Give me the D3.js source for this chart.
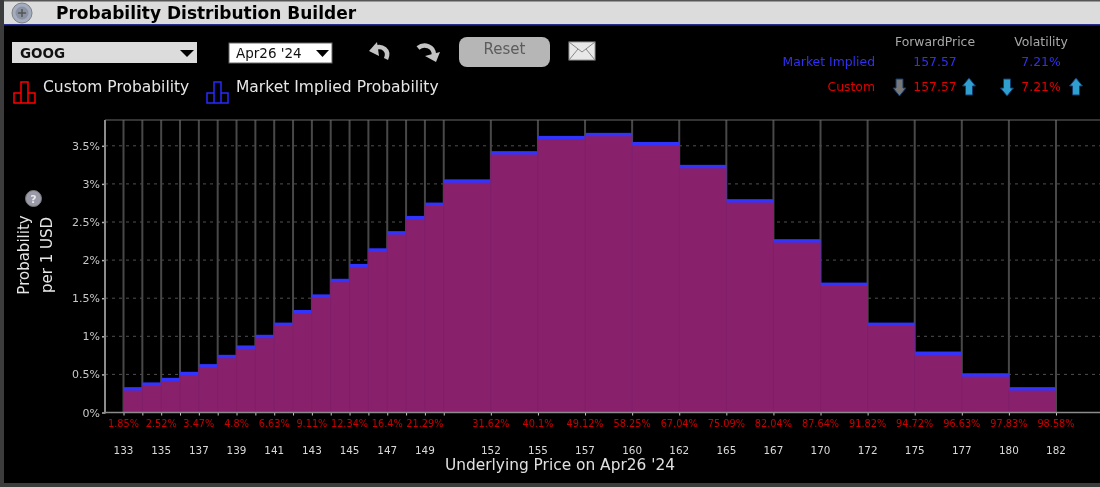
<!DOCTYPE html>
<html>
<head>
<meta charset="utf-8">
<title>Probability Distribution Builder</title>
<script src="https://cdnjs.cloudflare.com/ajax/libs/d3/7.8.5/d3.min.js"></script>
<style>
  html, body { margin: 0; padding: 0; background: #000; overflow: hidden; }
  svg { display: block; font-family: "DejaVu Sans", sans-serif; filter: blur(0.35px); }
</style>
</head>
<body>
<div id="chart"></div>
<script>
// bin edges in USD: 1 wide up to 150, 2.5 wide after that
const priceEdges = [133, 134, 135, 136, 137, 138, 139, 140, 141, 142, 143, 144, 145, 146, 147, 148, 149, 150,
    152.5, 155, 157.5, 160, 162.5, 165, 167.5, 170, 172.5, 175, 177.5, 180, 182.5];
// probability per 1 USD, one value per bin
const marketProb = [0.333, 0.395, 0.455, 0.534, 0.635, 0.757, 0.88, 1.02, 1.18, 1.345, 1.55, 1.755, 1.95, 2.155,
    2.38, 2.58, 2.755, 3.06, 3.43, 3.63, 3.67, 3.55, 3.25, 2.8, 2.275, 1.705, 1.18, 0.8, 0.515, 0.333];
const customProb = marketProb.slice(); // custom curve sits on the market one
const labelEdges = [133, 135, 137, 139, 141, 143, 145, 147, 149, 152.5, 155, 157.5, 160, 162.5, 165, 167.5, 170, 172.5, 175, 177.5, 180, 182.5];
const cumulativeLabels = ['1.85%', '2.52%', '3.47%', '4.8%', '6.63%', '9.11%', '12.34%', '16.4%', '21.29%', '31.62%', '40.1%',
    '49.12%', '58.25%', '67.04%', '75.09%', '82.04%', '87.64%', '91.82%', '94.72%', '96.63%', '97.83%', '98.58%'];
const yTicks = [0, 0.5, 1, 1.5, 2, 2.5, 3, 3.5];

const width = 1100, height = 487;
const plot = { left: 105, right: 1100, top: 120, bottom: 412.5 };

const svg = d3.select('#chart').append('svg').attr('width', width).attr('height', height);

const x = d3.scaleLinear().domain([133, 182.5]).range([123.5, 1056]);
const y = d3.scaleLinear().domain([0, 3.5]).range([plot.bottom, 145.8]);

// window frame
svg.append('rect').attr('width', width).attr('height', height).attr('fill', '#000');
svg.append('rect').attr('width', width).attr('height', 24).attr('fill', '#dcdcdc');
svg.append('rect').attr('width', width).attr('height', 1.5).attr('fill', '#555');
svg.append('rect').attr('y', 24).attr('width', width).attr('height', 1.5).attr('fill', '#2b2f8c');
svg.append('rect').attr('x', 0).attr('y', 0).attr('width', 4).attr('height', height).attr('fill', '#3c3c3c');
svg.append('rect').attr('x', 0).attr('y', 483).attr('width', width).attr('height', 4).attr('fill', '#3c3c3c');

// globe button
const globe = svg.append('g').attr('transform', 'translate(22,13)');
globe.append('circle').attr('r', 10).attr('fill', '#a3adbf').attr('stroke', '#808080');
globe.append('circle').attr('r', 6.5).attr('fill', '#8b93a3');
globe.append('path').attr('d', 'M-4,0H4M0,-4V4').attr('stroke', '#555').attr('stroke-width', 1.5);

svg.append('text').attr('x', 56).attr('y', 19).attr('font-size', 17).attr('font-weight', 700).attr('fill', '#000')
    .text('Probability Distribution Builder');

// selectors and buttons
svg.append('rect').attr('x', 12).attr('y', 42).attr('width', 185).attr('height', 21).attr('fill', '#dcdcdc');
svg.append('text').attr('x', 20).attr('y', 58).attr('font-size', 13.5).attr('font-weight', 700).attr('fill', '#111').text('GOOG');
svg.append('path').attr('d', 'M180,50h14l-7,7z').attr('fill', '#000');
svg.append('rect').attr('x', 229).attr('y', 43).attr('width', 103).attr('height', 20).attr('fill', '#fff').attr('stroke', '#666');
svg.append('text').attr('x', 236).attr('y', 58).attr('font-size', 13.5).attr('fill', '#111').text("Apr26 '24");
svg.append('path').attr('d', 'M316,50h13l-6.5,7z').attr('fill', '#000');

// undo and redo
svg.append('path').attr('d', 'M386,59C390,50 382,45 375,48').attr('fill', 'none').attr('stroke', '#c4c4c4').attr('stroke-width', 4.5);
svg.append('path').attr('d', 'M369,51L377,42L379,56Z').attr('fill', '#c4c4c4');
svg.append('path').attr('d', 'M418,48C424,43 434,46 434,55').attr('fill', 'none').attr('stroke', '#c4c4c4').attr('stroke-width', 4.5);
svg.append('path').attr('d', 'M440,52L436,62L425,56Z').attr('fill', '#c4c4c4');

svg.append('rect').attr('x', 459).attr('y', 37).attr('width', 91).attr('height', 30).attr('rx', 8).attr('fill', '#b6b6b6');
svg.append('text').attr('x', 504.5).attr('y', 54).attr('text-anchor', 'middle').attr('font-size', 15).attr('fill', '#5c5c5c').text('Reset');

svg.append('rect').attr('x', 569).attr('y', 42).attr('width', 26).attr('height', 18).attr('fill', '#e8e8e8').attr('stroke', '#999');
svg.append('path').attr('d', 'M569,42l13,10l13,-10M569,60l9,-11M595,60l-9,-11').attr('fill', 'none').attr('stroke', '#888');

// legend
function legendIcon(x0, colour) {
    svg.append('path')
        .attr('d', `M${x0},103v-10h7v-11h7v11h7v10zM${x0 + 7},103v-10M${x0 + 14},103v-10`)
        .attr('fill', 'none').attr('stroke', colour).attr('stroke-width', 1.5);
}
legendIcon(14, '#ff0000');
legendIcon(207, '#2a2aff');
svg.append('text').attr('x', 43).attr('y', 92).attr('font-size', 15.5).attr('fill', '#e6e6e6').text('Custom Probability');
svg.append('text').attr('x', 236).attr('y', 92).attr('font-size', 15.5).attr('fill', '#e6e6e6').text('Market Implied Probability');

// forward price / volatility block
const statText = (tx, ty, anchor, colour, s) => svg.append('text').attr('x', tx).attr('y', ty)
    .attr('text-anchor', anchor).attr('font-size', 12.4).attr('fill', colour).text(s);
statText(935, 46, 'middle', '#a8a8a8', 'ForwardPrice');
statText(1041, 46, 'middle', '#a8a8a8', 'Volatility');
statText(875, 66, 'end', '#3030f0', 'Market Implied');
statText(935, 66, 'middle', '#3030f0', '157.57');
statText(1041, 66, 'middle', '#3030f0', '7.21%');
statText(875, 91, 'end', '#e00000', 'Custom');
statText(935, 91, 'middle', '#e00000', '157.57');
statText(1041, 91, 'middle', '#e00000', '7.21%');

function arrow(cx, up, colour) {
    const s = up ? 1 : -1;
    svg.append('path').attr('transform', `translate(${cx},87) scale(1,${s})`)
        .attr('d', 'M0,-9L6.5,-1H3.5V8H-3.5V-1H-6.5Z')
        .attr('fill', colour).attr('stroke', '#123a6b');
}
arrow(899.5, false, '#777');
arrow(969, true, '#2f9fd0');
arrow(1007, false, '#2f9fd0');
arrow(1076, true, '#2f9fd0');

// horizontal dashes, behind the bars
svg.append('g').selectAll('line').data(yTicks.slice(1)).enter().append('line')
    .attr('x1', plot.left).attr('x2', plot.right)
    .attr('y1', d => y(d)).attr('y2', d => y(d))
    .attr('stroke', '#505050').attr('stroke-dasharray', '3,4');

// vertical lines at each bin edge
svg.append('g').selectAll('line').data(priceEdges).enter().append('line')
    .attr('x1', d => x(d)).attr('x2', d => x(d))
    .attr('y1', plot.top).attr('y2', plot.bottom)
    .attr('stroke', '#484848').attr('stroke-width', 2);

// frame lines of the plot
svg.append('line').attr('x1', plot.left).attr('x2', plot.right).attr('y1', plot.top).attr('y2', plot.top).attr('stroke', '#686868');

// market bars
const bins = marketProb.map((d, i) => ({ x0: priceEdges[i], x1: priceEdges[i + 1], market: d, custom: customProb[i] }));
svg.append('g').selectAll('rect').data(bins).enter().append('rect')
    .attr('x', d => x(d.x0))
    .attr('width', d => x(d.x1) - x(d.x0))
    .attr('y', d => y(d.market))
    .attr('height', d => y(0) - y(d.market))
    .attr('fill', '#3333ff');

// custom bars over them, the blue stays visible as a band along the top
const bandHeight = 3.4;
svg.append('g').selectAll('rect').data(bins).enter().append('rect')
    .attr('x', d => x(d.x0))
    .attr('width', d => x(d.x1) - x(d.x0))
    .attr('y', d => y(d.custom) + bandHeight)
    .attr('height', d => y(0) - y(d.custom) - bandHeight)
    .attr('fill', '#88206c');

// bin dividers inside the bars
svg.append('g').selectAll('line').data(bins).enter().append('line')
    .attr('x1', d => x(d.x0)).attr('x2', d => x(d.x0))
    .attr('y1', d => y(d.custom) + bandHeight).attr('y2', plot.bottom)
    .attr('stroke', '#841e66');

// axes
const yAxis = d3.axisLeft(y).tickValues(yTicks).tickSize(3).tickPadding(2).tickFormat(d => d + '%');
const gy = svg.append('g').attr('transform', `translate(${plot.left},0)`).call(yAxis);
gy.select('.domain').remove();
gy.selectAll('line').attr('stroke', '#b0b0b0').attr('stroke-width', 1.5);
gy.selectAll('text').attr('font-size', 11).attr('font-family', '"DejaVu Sans", sans-serif').attr('fill', '#c8c8c8');
svg.append('line').attr('x1', plot.left).attr('x2', plot.left).attr('y1', plot.top).attr('y2', plot.bottom + 1)
    .attr('stroke', '#8c8c8c').attr('stroke-width', 2);

const xAxis = d3.axisBottom(x).tickValues(priceEdges).tickSize(3).tickFormat('');
const gx = svg.append('g').attr('transform', `translate(0,${plot.bottom})`).call(xAxis);
gx.select('.domain').remove();
gx.selectAll('line').attr('stroke', '#c8c8c8');
svg.append('line').attr('x1', plot.left).attr('x2', plot.right).attr('y1', plot.bottom).attr('y2', plot.bottom)
    .attr('stroke', '#8c8c8c').attr('stroke-width', 1.5);

// cumulative probability and strike labels
svg.append('g').selectAll('text').data(labelEdges).enter().append('text')
    .attr('x', d => x(d)).attr('y', 427)
    .attr('text-anchor', 'middle').attr('font-size', 9.75).attr('fill', '#c80000')
    .text((d, i) => cumulativeLabels[i]);
svg.append('g').selectAll('text').data(labelEdges).enter().append('text')
    .attr('x', d => x(d)).attr('y', 453.5)
    .attr('text-anchor', 'middle').attr('font-size', 10.4).attr('fill', '#d8d8d8')
    .text(d => Math.floor(d));

svg.append('text').attr('x', 560).attr('y', 470).attr('text-anchor', 'middle').attr('font-size', 15.4).attr('fill', '#e0e0e0')
    .text("Underlying Price on Apr26 '24");

// y title with the help badge
svg.append('text').attr('transform', 'translate(29,255) rotate(-90)').attr('text-anchor', 'middle').attr('font-size', 15).attr('fill', '#e6e6e6').text('Probability');
svg.append('text').attr('transform', 'translate(52,255) rotate(-90)').attr('text-anchor', 'middle').attr('font-size', 15).attr('fill', '#e6e6e6').text('per 1 USD');
svg.append('circle').attr('cx', 33.5).attr('cy', 198.5).attr('r', 8).attr('fill', '#9a9aa8').attr('stroke', '#777');
svg.append('text').attr('x', 33.5).attr('y', 202.5).attr('text-anchor', 'middle').attr('font-size', 11).attr('font-weight', 700).attr('fill', '#e8e8e8').text('?');
</script>
</body>
</html>
